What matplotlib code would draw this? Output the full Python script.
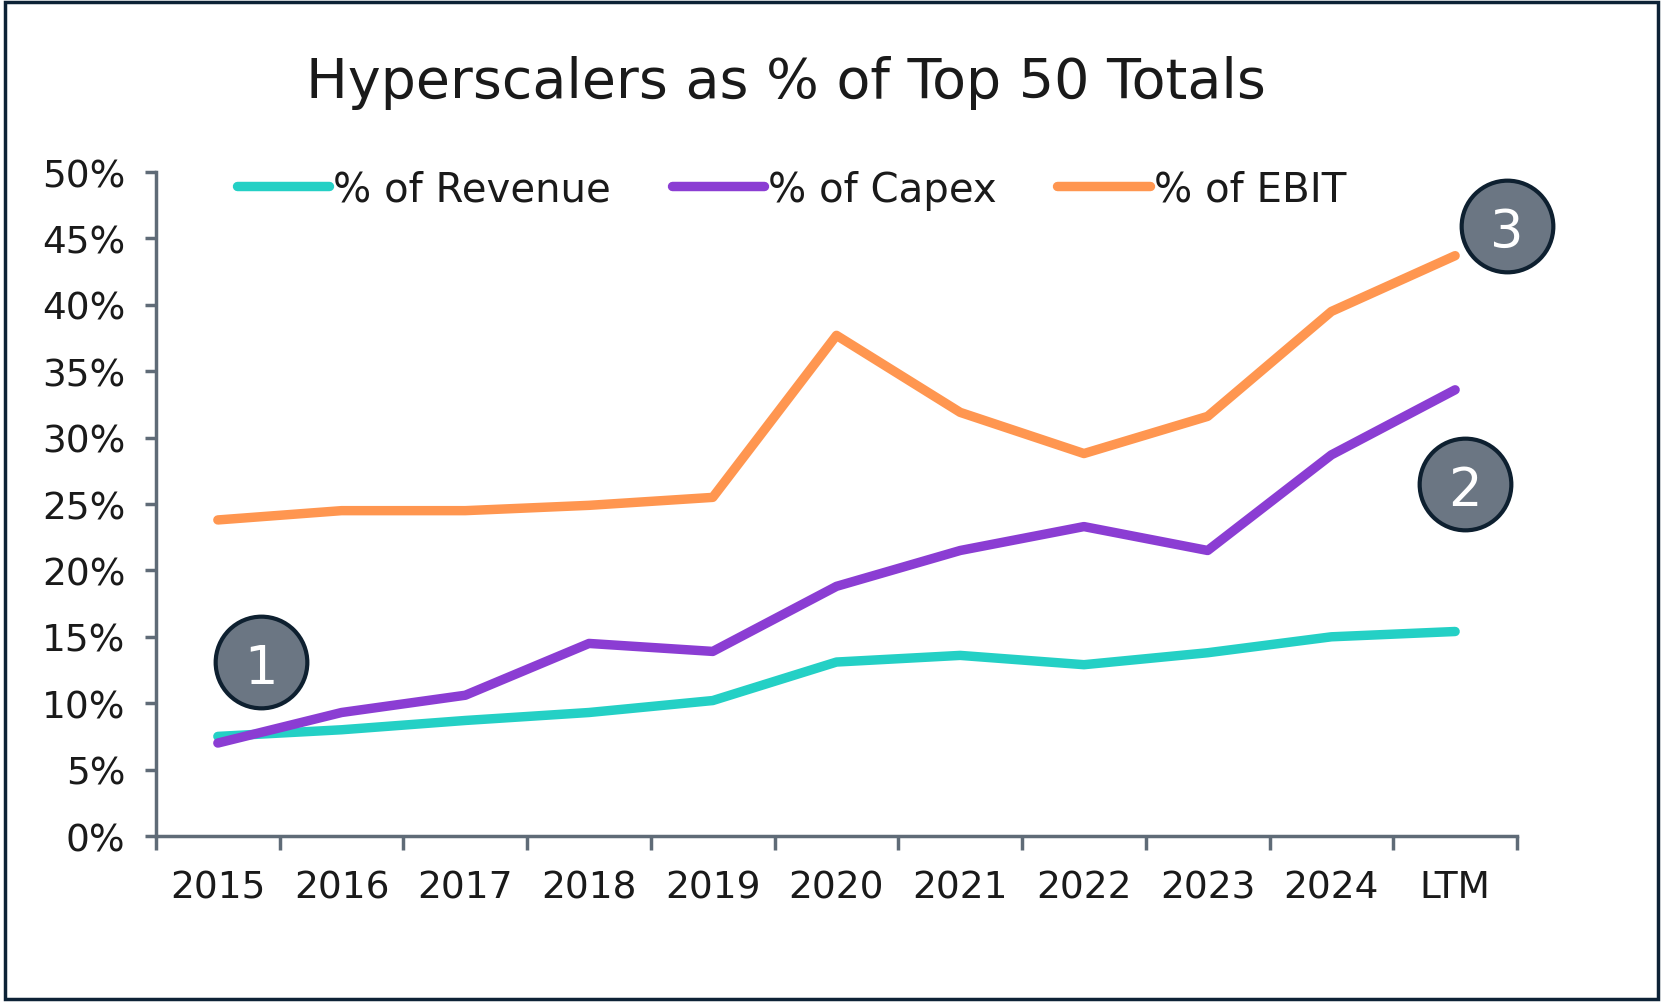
import matplotlib
matplotlib.use("Agg")
import matplotlib.pyplot as plt
from matplotlib.patches import Rectangle
from matplotlib.ticker import FixedLocator, FuncFormatter

# =========================================================
# Data
# =========================================================
years = ["2015", "2016", "2017", "2018", "2019", "2020", "2021", "2022", "2023", "2024", "LTM"]
revenue = [7.5, 8.0, 8.7, 9.3, 10.2, 13.1, 13.6, 12.9, 13.8, 15.0, 15.4]
capex = [7.0, 9.3, 10.6, 14.5, 13.9, 18.8, 21.5, 23.3, 21.5, 28.7, 33.6]
ebit = [23.8, 24.5, 24.5, 24.9, 25.5, 37.7, 31.9, 28.8, 31.6, 39.5, 43.7]

badge_labels = ["1", "2", "3"]
badge_x = [0.35, 10.08, 10.42]
badge_y = [13.1, 26.5, 45.9]

plt.rcParams["font.family"] = ["DejaVu Sans"]

axis_col = "#5F6B77"
text_col = "#1A1A1A"

fig = plt.figure(figsize=(16.63, 10.03), dpi=100)
ax = fig.add_axes([0.0938, 0.1655, 0.8184, 0.662])

x = list(range(len(years)))
ax.plot(x, revenue, color="#24D0C5", lw=6.8, solid_capstyle="round", label="% of Revenue")
ax.plot(x, capex, color="#8B3DD3", lw=6.8, solid_capstyle="round", label="% of Capex")
ax.plot(x, ebit, color="#FF9650", lw=6.8, solid_capstyle="round", label="% of EBIT")

# ---- numbered badges ----
for lab, bx, by in zip(badge_labels, badge_x, badge_y):
    ax.plot(bx, by, "o", ms=66, mfc="#6B7683", mec="#0E2030", mew=3, clip_on=False, zorder=5)
    ax.text(bx, by, lab, color="white", fontsize=38, ha="center", va="center_baseline", zorder=6)

# ---- axes ----
ax.set_xlim(-0.5, len(years) - 0.5)
ax.set_ylim(0, 50)
ax.set_yticks(range(0, 51, 5))
ax.yaxis.set_major_formatter(FuncFormatter(lambda v, p: f"{v:.0f}%"))
ax.set_xticks(x)
ax.set_xticklabels(years)
ax.xaxis.set_minor_locator(FixedLocator([i - 0.5 for i in range(len(years) + 1)]))

for s in ["top", "right"]:
    ax.spines[s].set_visible(False)
for s in ["left", "bottom"]:
    ax.spines[s].set_color(axis_col)
    ax.spines[s].set_linewidth(2.5)

ax.tick_params(axis="y", direction="out", length=8, width=2.5, color=axis_col,
               labelsize=27, labelcolor=text_col, pad=14)
ax.tick_params(axis="x", which="major", length=0, labelsize=27, labelcolor=text_col, pad=24)
ax.tick_params(axis="x", which="minor", direction="out", length=10, width=2.5, color=axis_col)

fig.text(0.4727, 0.917, "Hyperscalers as % of Top 50 Totals", fontsize=40, color=text_col,
         ha="center", va="center")

fig.legend(loc="center", bbox_to_anchor=(0.476, 0.81), ncol=3, frameon=False,
           fontsize=29, handlelength=2.3, handletextpad=0.1, columnspacing=1.5,
           labelcolor=text_col)

# ---- outer border ----
fig.patches.append(Rectangle((0.003, 0.003), 0.994, 0.994, transform=fig.transFigure,
                             fill=False, edgecolor="#0D2236", lw=2.5))

fig.savefig("out.png", dpi=100)
